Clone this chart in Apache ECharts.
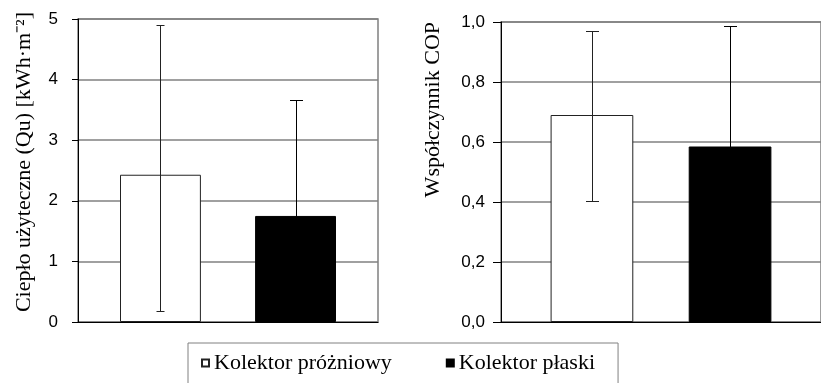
<!DOCTYPE html>
<html><head><meta charset="utf-8">
<script src="https://cdn.jsdelivr.net/npm/echarts@6/dist/echarts.min.js"></script>
<style>html,body{margin:0;padding:0;background:#fff}#c{width:821px;height:383px}</style>
</head><body><div id="c"></div>
<script>
const seriesNames = ['Kolektor próżniowy', 'Kolektor płaski'];
const category = ['Kolektor'];
const heatMean = [2.43, 1.75];
const heatLow = [0.18, -0.16];
const heatHigh = [4.90, 3.66];
const heatTickLabels = ['0', '1', '2', '3', '4', '5'];
const copMean = [0.69, 0.585];
const copLow = [0.405, 0.18];
const copHigh = [0.97, 0.987];
const copTickLabels = ['0,0', '0,2', '0,4', '0,6', '0,8', '1,0'];
const heatAxisName = 'Ciepło użyteczne (Qu) [kWh·m⁻²]';
const copAxisName = 'Współczynnik COP';

const serif = 'Liberation Serif';
const sans = 'Liberation Sans';
const catGaps = [0.28, 0.31];
const barGap = 0.67;
const errColors = ['#222', '#000'];

function makeErr(xi, lows, highs, capW) {
  const catGap = catGaps[xi];
  return {
    type: 'custom', xAxisIndex: xi, yAxisIndex: xi, z: 10, clip: true, silent: true,
    data: lows.map((l, i) => [0, l, highs[i]]),
    encode: { x: 0, y: [1, 2] },
    renderItem: (params, api) => {
      const i = params.dataIndex;
      const bw = api.size([1, 0])[0];
      const w = bw * (1 - catGap) / (2 + barGap);
      const off = (i === 0 ? -1 : 1) * w * (1 + barGap) / 2;
      const lo = api.coord([0, api.value(1)]);
      const hi = api.coord([0, api.value(2)]);
      const x = Math.round(lo[0] + off) + 0.5;
      const c = capW[i] / 2;
      const y1 = Math.round(lo[1]) + 0.5, y2 = Math.round(hi[1]) + 0.5;
      const style = { stroke: errColors[i], lineWidth: 1, fill: null };
      return { type: 'group', children: [
        { type: 'line', shape: { x1: x, y1: y1, x2: x, y2: y2 }, style },
        { type: 'line', shape: { x1: x - c, y1: y2, x2: x + c, y2: y2 }, style },
        { type: 'line', shape: { x1: x - c, y1: y1, x2: x + c, y2: y1 }, style }
      ] };
    }
  };
}

function yAxis(gi, max, interval, labels, name, nameGap, pad, margin, tickLen) {
  return {
    gridIndex: gi, type: 'value', min: 0, max: max, interval: interval,
    name: name, nameLocation: 'end', nameGap: nameGap, nameRotate: 90, nameMoveOverlap: false,
    nameTextStyle: { fontFamily: serif, fontSize: 22, color: '#000', align: 'right', verticalAlign: 'bottom', padding: [0, 0, pad, 0] },
    axisLine: { show: true, lineStyle: { color: '#000', width: 1 } },
    axisTick: { show: true, length: tickLen, lineStyle: { color: '#000' } },
    axisLabel: { margin: margin, fontFamily: sans, fontSize: 17, color: '#000',
      formatter: v => labels[Math.round(v / interval)] },
    splitLine: { show: true, lineStyle: { color: '#808080', width: 1.5 } }
  };
}

function xAxis(gi) {
  return {
    gridIndex: gi, type: 'category', data: category,
    axisLine: { show: true, lineStyle: { color: '#000', width: 1 } },
    axisTick: { show: false }, axisLabel: { show: false }, splitLine: { show: false }
  };
}

function bars(xi, values) {
  return [
    { type: 'bar', name: seriesNames[0], xAxisIndex: xi, yAxisIndex: xi, data: [values[0]],
      barGap: (barGap * 100) + '%', barCategoryGap: (catGaps[xi] * 100) + '%',
      itemStyle: { color: '#fff', borderColor: '#222', borderWidth: 1 }, silent: true, z: 2 },
    { type: 'bar', name: seriesNames[1], xAxisIndex: xi, yAxisIndex: xi, data: [values[1]],
      barGap: (barGap * 100) + '%', barCategoryGap: (catGaps[xi] * 100) + '%',
      itemStyle: { color: '#000', borderColor: '#000', borderWidth: 1 }, silent: true, z: 2 }
  ];
}

const chart = echarts.init(document.getElementById('c'), null, { renderer: 'canvas' });
chart.setOption({
  animation: false,
  backgroundColor: '#fff',
  grid: [
    { left: 78, top: 19, width: 300, height: 303, show: true, borderColor: '#808080', borderWidth: 1.5, containLabel: false },
    { left: 501, top: 22, width: 320, height: 300, show: true, borderColor: '#808080', borderWidth: 1.5, containLabel: false }
  ],
  xAxis: [xAxis(0), xAxis(1)],
  yAxis: [
    yAxis(0, 5, 1, heatTickLabels, heatAxisName, 7, 43, 20, 6),
    yAxis(1, 1, 0.2, copTickLabels, copAxisName, 0, 57, 16, 8)
  ],
  legend: {
    show: true,
    data: seriesNames,
    left: 188, top: 343, orient: 'horizontal',
    itemWidth: 7, itemHeight: 7, itemGap: 54, icon: 'rect',
    padding: [9, 23, 20, 13], borderColor: '#808080', borderWidth: 1,
    textStyle: { fontFamily: serif, fontSize: 22, color: '#000' },
    selectedMode: false
  },
  series: [
    ...bars(0, heatMean),
    makeErr(0, heatLow, heatHigh, [8, 13]),
    ...bars(1, copMean),
    makeErr(1, copLow, copHigh, [13, 13])
  ]
});
</script></body></html>
